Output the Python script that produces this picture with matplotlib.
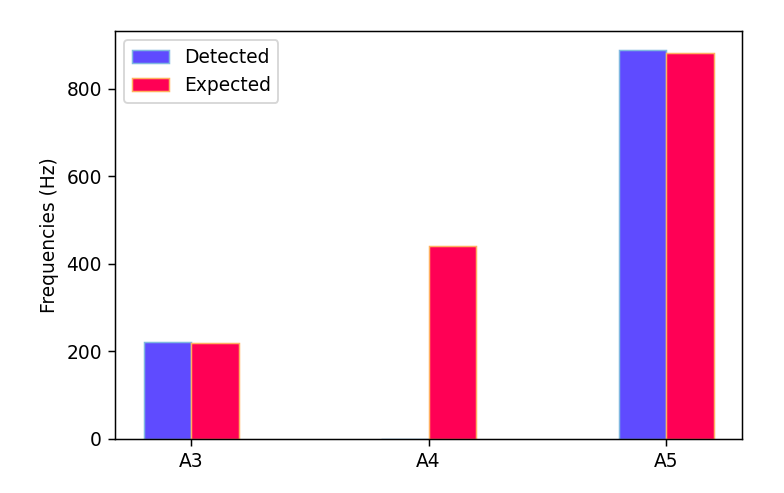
import matplotlib
matplotlib.use("Agg")
import matplotlib.pyplot as plt
import numpy as np

notes = ["A3", "A4", "A5"]
detected = [222, 0, 887]
expected = [220, 440, 880]

DPI = 134
fig = plt.figure(figsize=(784/DPI, 493/DPI), dpi=DPI)
ax = fig.add_axes([115/784, 1-439/493, (742-115)/784, (439-31)/493])
x = np.arange(len(notes))
w = 0.2
ax.bar(x, detected, width=-w, align='edge', color='#5f4bff', edgecolor='#7fb8e0', linewidth=0.8, label='Detected')
ax.bar(x, expected, width=w, align='edge', color='#ff0055', edgecolor='#ffb060', linewidth=0.8, label='Expected')
ax.set_xticks(x)
ax.set_xticklabels(notes)
ax.set_ylabel('Frequencies (Hz)')
ax.legend(loc='upper left')
fig.savefig('out.png', dpi=DPI)
